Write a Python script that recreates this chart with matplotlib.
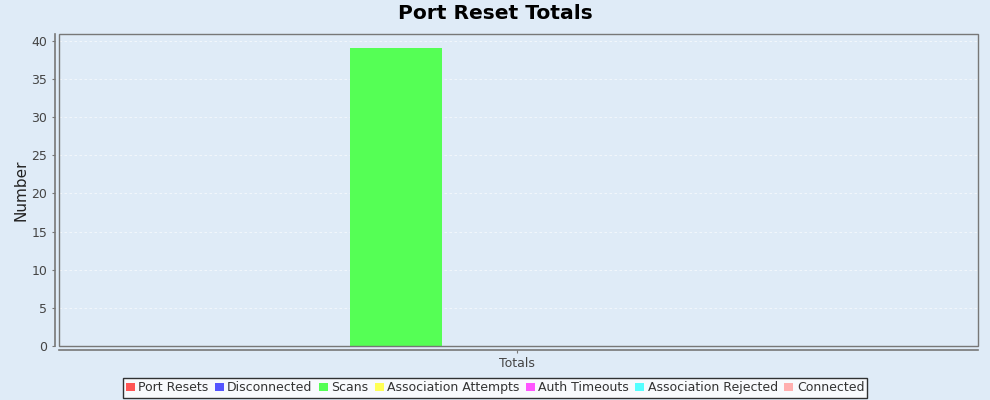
import numpy as np
import matplotlib.pyplot as plt
from matplotlib.patches import Rectangle

categories = ["Totals"]
series = ["Port Resets", "Disconnected", "Scans", "Association Attempts",
          "Auth Timeouts", "Association Rejected", "Connected"]
values = [0, 0, 39, 0, 0, 0, 0]
colors = ["#FF5555", "#5555FF", "#55FF55", "#FFFF55", "#FF55FF", "#55FFFF", "#FFAFAF"]

bg = "#DFEBF7"
fig = plt.figure(figsize=(9.9, 4), dpi=100, facecolor=bg)
ax = fig.add_axes([59/990, 54/400, 919/990, 312/400], facecolor=bg)

n = len(series)
offsets = np.arange(n) - (n - 1) / 2
for i in range(n):
    ax.bar(offsets[i], values[i], width=0.76, color=colors[i], label=series[i], zorder=3)

ax.set_xlim(-3.785, 3.81)
ax.set_ylim(0, 40.9)
ax.set_yticks(range(0, 41, 5))
ax.set_xticks([0])
ax.set_xticklabels(categories)
ax.yaxis.grid(True, color="white", alpha=0.7, linestyle=(0, (3, 3)), linewidth=0.6, zorder=0)

for s in ["top", "right"]:
    ax.spines[s].set_visible(False)
for s in ["left", "bottom"]:
    ax.spines[s].set_position(("outward", 3))
    ax.spines[s].set_color("#777777")
    ax.spines[s].set_linewidth(1.2)
ax.add_patch(Rectangle((0, 0), 1, 1, transform=ax.transAxes, fill=False,
                       edgecolor="#777777", linewidth=1.0, zorder=4, clip_on=False))

ax.tick_params(axis="both", colors="#777777", labelcolor="#444444", labelsize=9, length=2)
ax.tick_params(axis="x", pad=3)
ax.set_ylabel("Number", fontsize=11, color="#222222", labelpad=2)
fig.suptitle("Port Reset Totals", fontsize=14.6, fontweight="bold", y=0.99)

leg = fig.legend(loc="lower center", bbox_to_anchor=(0.5, 0.0), ncol=n, fontsize=9,
                 frameon=True, fancybox=False, handlelength=0.7, handleheight=0.7,
                 handletextpad=0.3, columnspacing=0.5, borderpad=0.25, borderaxespad=0.2)
leg.get_frame().set_edgecolor("black")
leg.get_frame().set_facecolor("white")
leg.get_frame().set_linewidth(1.0)
for t in leg.get_texts():
    t.set_color("#333333")

plt.savefig("out.png", dpi=100, facecolor=bg)
plt.close()
